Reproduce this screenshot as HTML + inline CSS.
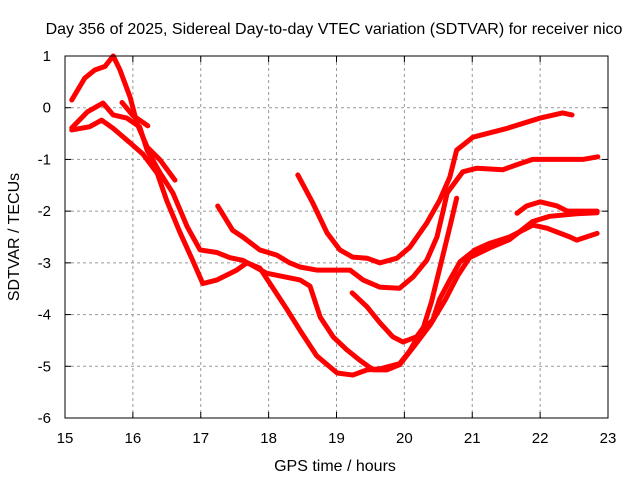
<!DOCTYPE html>
<html><head><meta charset="utf-8"><style>
body{margin:0;background:#fff}
svg{display:block;font-family:"Liberation Sans",sans-serif}
</style></head><body>
<svg id="chart" width="640" height="480">
<text x="334" y="34" text-anchor="middle" font-size="16">Day 356 of 2025, Sidereal Day-to-day VTEC variation (SDTVAR) for receiver nico</text>
<text x="335" y="471" text-anchor="middle" font-size="16">GPS time / hours</text>
<text transform="translate(19,237) rotate(-90)" text-anchor="middle" font-size="16">SDTVAR / TECUs</text>
<g id="grid"></g>
<g id="axes"></g>
<g id="series"></g>
<rect x="65" y="56" width="543" height="362" fill="none" stroke="#000" stroke-width="1"/>
</svg>
<script>
const xTicks=[15,16,17,18,19,20,21,22,23];
const yTicks=[1,0,-1,-2,-3,-4,-5,-6];
const traceA=[[15.10,0.15],[15.29,0.57],[15.44,0.73],[15.59,0.8],[15.71,1.0],[15.81,0.73],[15.96,0.2],[16.06,-0.3],[16.21,-0.76],[16.40,-1.01],[16.62,-1.4]];
const traceB=[[15.10,-0.39],[15.33,-0.08],[15.56,0.09],[15.71,-0.14],[15.91,-0.2],[16.10,-0.37],[16.21,-0.82],[16.40,-1.26],[16.59,-1.65],[16.80,-2.3],[16.99,-2.75],[17.24,-2.8],[17.43,-2.9],[17.62,-2.95],[17.97,-3.2],[18.46,-3.33],[18.61,-3.45],[18.76,-4.05],[18.95,-4.43],[19.15,-4.68],[19.34,-4.88],[19.54,-5.07],[19.74,-5.07],[19.93,-4.97],[20.15,-4.6],[20.38,-4.2],[20.6,-3.72],[20.79,-3.24],[20.96,-2.9],[21.26,-2.71],[21.55,-2.55],[21.89,-2.2],[22.14,-2.1],[22.54,-2.05],[22.84,-2.03]];
const traceC=[[15.10,-0.43],[15.36,-0.37],[15.54,-0.24],[15.71,-0.4],[15.96,-0.68],[16.15,-0.9],[16.36,-1.27],[16.50,-1.8],[16.69,-2.4],[16.88,-2.95],[17.03,-3.4],[17.24,-3.33],[17.53,-3.14],[17.68,-3.0],[17.87,-3.1],[17.97,-3.3],[18.27,-3.9],[18.46,-4.3],[18.71,-4.8],[19.01,-5.13],[19.24,-5.17],[19.45,-5.07],[19.64,-5.05],[19.93,-4.95],[20.08,-4.7],[20.23,-4.35],[20.42,-4.1],[20.52,-3.7],[20.67,-3.33],[20.82,-2.98],[21.04,-2.75],[21.26,-2.62],[21.55,-2.5],[21.89,-2.27],[22.1,-2.33],[22.44,-2.5],[22.54,-2.56],[22.84,-2.43]];
const traceD=[[15.84,0.1],[16.0,-0.15],[16.22,-0.35]];
const traceT1=[[18.43,-1.3],[18.65,-1.84],[18.86,-2.42],[19.05,-2.75],[19.24,-2.89],[19.45,-2.91],[19.64,-3.0],[19.89,-2.91],[20.08,-2.7],[20.33,-2.23],[20.52,-1.79],[20.67,-1.34],[20.77,-0.82],[21.01,-0.57],[21.51,-0.4],[22.0,-0.2],[22.33,-0.1],[22.47,-0.14]];
const traceT2=[[17.25,-1.9],[17.47,-2.37],[17.62,-2.5],[17.87,-2.75],[18.12,-2.85],[18.31,-3.0],[18.46,-3.08],[18.71,-3.14],[19.2,-3.14],[19.39,-3.33],[19.64,-3.47],[19.93,-3.49],[20.13,-3.27],[20.33,-2.95],[20.48,-2.5],[20.57,-2.0],[20.63,-1.65],[20.77,-1.4],[20.86,-1.24],[21.07,-1.17],[21.45,-1.2],[21.66,-1.1],[21.89,-1.0],[22.25,-1.0],[22.63,-1.0],[22.85,-0.95]];
const traceT3=[[19.23,-3.58],[19.45,-3.85],[19.64,-4.16],[19.83,-4.43],[19.98,-4.53],[20.18,-4.43],[20.28,-4.25],[20.4,-3.75],[20.55,-2.95],[20.68,-2.25],[20.77,-1.75]];
const traceE=[[21.66,-2.04],[21.8,-1.9],[22.0,-1.82],[22.25,-1.9],[22.4,-2.0],[22.84,-2.0]];
const traces=[traceA,traceB,traceC,traceD,traceT1,traceT2,traceT3,traceE];
const traceNames=['trace-a','trace-b','trace-c','trace-d','trace-t1','trace-t2','trace-t3','trace-e'];

const X0=65,X1=608,Y0=56,Y1=418;
const xs=h=>X0+(h-15)/8*(X1-X0);
const ys=v=>Y0+(1-v)/7*(Y1-Y0);
const NS='http://www.w3.org/2000/svg';
const grid=document.getElementById('grid'),axes=document.getElementById('axes'),ser=document.getElementById('series');
function mk(tag,attrs,parent){const e=document.createElementNS(NS,tag);for(const k in attrs)e.setAttribute(k,attrs[k]);parent.appendChild(e);return e;}
xTicks.forEach(t=>{
  const x=xs(t);
  if(t>15&&t<23){const g=mk('line',{x1:x,x2:x,y1:Y0,y2:Y1,stroke:'#999','stroke-dasharray':'3,3'},grid);
  
  }
  mk('line',{x1:x,x2:x,y1:Y1,y2:Y1-6,stroke:'#000'},axes);
  mk('line',{x1:x,x2:x,y1:Y0,y2:Y0+6,stroke:'#000'},axes);
  const l=mk('text',{x:x,y:443,'text-anchor':'middle','font-size':'15'},axes);
  l.textContent=t;
  
  
});
yTicks.forEach(t=>{
  const y=ys(t);
  if(t<1&&t>-6){const g=mk('line',{x1:X0,x2:X1,y1:y,y2:y,stroke:'#999','stroke-dasharray':'3,3'},grid);
  
  }
  mk('line',{x1:X0,x2:X0+6,y1:y,y2:y,stroke:'#000'},axes);
  mk('line',{x1:X1,x2:X1-6,y1:y,y2:y,stroke:'#000'},axes);
  const l=mk('text',{x:51,y:y+5,'text-anchor':'end','font-size':'15'},axes);
  l.textContent=t;
  
  
});
traces.forEach((tr,i)=>{
  const p=mk('polyline',{points:tr.map(d=>xs(d[0])+','+ys(d[1])).join(' '),fill:'none',stroke:'#f00','stroke-width':'5','stroke-linejoin':'round','stroke-linecap':'round'},ser);
  
  
});
</script>
</body></html>
